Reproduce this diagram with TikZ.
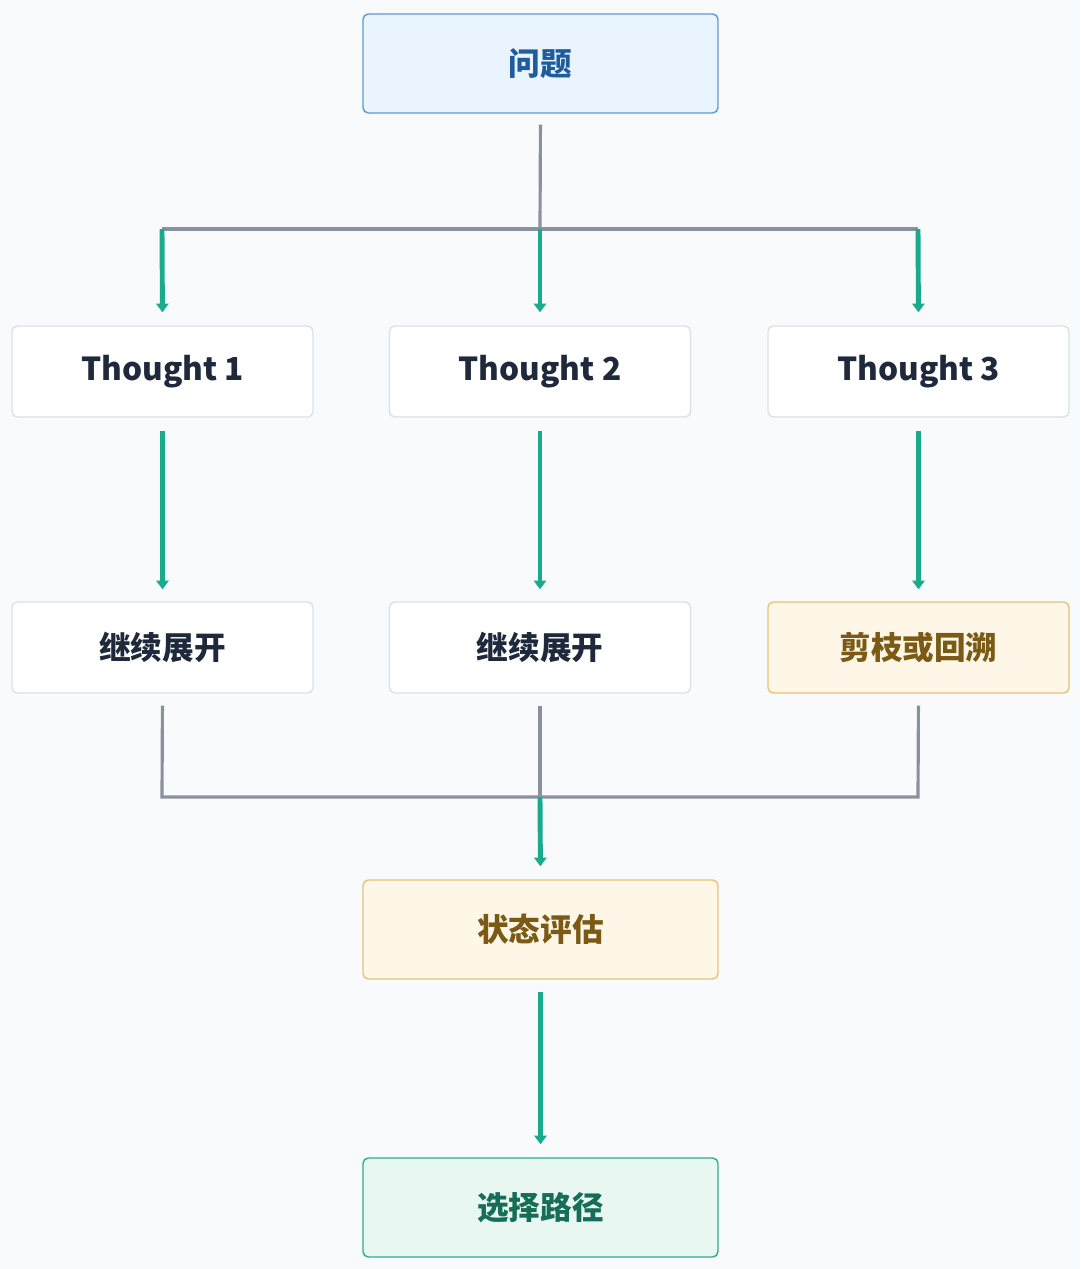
\documentclass[tikz,border=0pt]{standalone}
\usepackage{fontspec}
\setmainfont{Noto Sans CJK SC}
\usetikzlibrary{arrows.meta}
\definecolor{bgpage}{HTML}{F8FAFC}
\definecolor{qfill}{HTML}{EAF4FE}
\definecolor{qline}{HTML}{5B9BD5}
\definecolor{qtext}{HTML}{1F5C9E}
\definecolor{tline}{HTML}{DDE1E6}
\definecolor{ttext}{HTML}{1E293B}
\definecolor{ofill}{HTML}{FEF7E7}
\definecolor{oline}{HTML}{E8C27A}
\definecolor{otext}{HTML}{7A5A14}
\definecolor{gfill}{HTML}{E8F7F1}
\definecolor{gline}{HTML}{2EAE8E}
\definecolor{gtext}{HTML}{166E57}
\definecolor{linkgray}{HTML}{8A919E}
\definecolor{arrgreen}{HTML}{1AAA8C}
\tikzset{
  box/.style={draw, rounded corners=3pt, line width=0.8pt, align=center, inner sep=0pt,
    font=\bfseries\fontsize{18}{22}\selectfont},
  widebox/.style={box, minimum width=7.1cm, minimum height=1.98cm},
  thoughtbox/.style={box, fill=white, draw=tline, text=ttext, minimum width=6.02cm, minimum height=1.82cm},
  qbox/.style={widebox, fill=qfill, draw=qline, text=qtext},
  obox/.style={fill=ofill, draw=oline, text=otext},
  gbox/.style={widebox, fill=gfill, draw=gline, text=gtext},
  link/.style={draw=linkgray, line width=1.8pt},
  arr/.style={draw=arrgreen, line width=2.8pt, -{Triangle[length=5pt,width=7pt]}},
}
\begin{document}
\begin{tikzpicture}[x=0.02cm, y=-0.02cm]
  \fill[bgpage] (0,0) rectangle (1080,1269);
  \node[qbox] (q) at (540.5,63.5) {问题};
  \node[thoughtbox] (t1) at (162.5,371.5) {Thought 1};
  \node[thoughtbox] (t2) at (540,371.5) {Thought 2};
  \node[thoughtbox] (t3) at (918.5,371.5) {Thought 3};
  \node[thoughtbox] (e1) at (162.5,647.5) {继续展开};
  \node[thoughtbox] (e2) at (540,647.5) {继续展开};
  \node[thoughtbox, obox] (p3) at (918.5,647.5) {剪枝或回溯};
  \node[widebox, obox] (s) at (540.5,929.5) {状态评估};
  \node[gbox] (c) at (540.5,1207.5) {选择路径};
  \coordinate (j1a) at (162,229);
  \coordinate (j1) at (540,229);
  \coordinate (j1c) at (918,229);
  \coordinate (j2a) at (162,797);
  \coordinate (j2) at (540,797);
  \coordinate (j2c) at (918,797);
  \draw[link, shorten <=0.22cm] (q.south) -- (j1);
  \draw[link] (j1a) -- (j1c);
  \draw[link, shorten <=0.24cm, shorten >=0.24cm] (e1.south) -- (j2a) -- (j2c) -- (p3.south);
  \draw[link, shorten <=0.24cm] (e2.south) -- (j2);
  \foreach \c/\n in {j1a/t1, j1/t2, j1c/t3}
    \draw[arr, shorten >=0.26cm] (\c) -- (\n.north);
  \foreach \a/\b in {t1/e1, t2/e2, t3/p3}
    \draw[arr, shorten <=0.26cm, shorten >=0.24cm] (\a) -- (\b);
  \draw[arr, shorten >=0.26cm] (j2) -- (s.north);
  \draw[arr, shorten <=0.24cm, shorten >=0.26cm] (s) -- (c);
\end{tikzpicture}
\end{document}
